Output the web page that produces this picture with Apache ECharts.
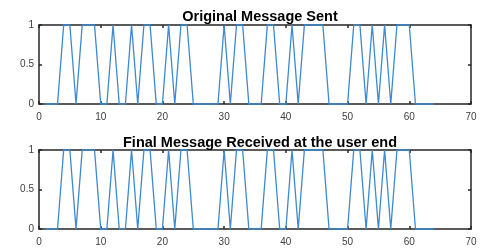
<!DOCTYPE html>
<html>
<head>
<meta charset="utf-8">
<script src="https://cdn.jsdelivr.net/npm/echarts@6/dist/echarts.min.js"></script>
<style>
  html, body { margin: 0; padding: 0; background: #fff; }
  #main { width: 482px; height: 250px; }
</style>
</head>
<body>
<div id="main"></div>
<script>
// bits, sample index starts at 1
var sentBits = [0,0,0,1,1,0,1,1,1,0,0,1,0,0,1,0,1,1,0,0,1,0,1,1,0,0,0,0,0,1,0,1,1,0,0,0,1,1,0,0,1,0,1,1,1,1,0,0,0,0,1,1,0,1,0,1,0,1,1,1,0,0,0,0];
var receivedBits = [0,0,0,1,1,0,1,1,1,0,0,1,0,0,1,0,1,1,0,0,1,0,1,1,0,0,0,0,0,1,0,1,1,0,0,0,1,1,0,0,1,0,1,1,1,1,0,0,0,0,1,1,0,1,0,1,0,1,1,1,0,0,0,0];
var xTicks = [0, 10, 20, 30, 40, 50, 60, 70];
var yTicks = [0, 0.5, 1];
var titles = ["Original Message Sent", "Final Message Received at the user end"];

function toPoints(bits) {
  return bits.map(function (b, i) { return [i + 1, b]; });
}

var axisColor = "#262626";
var lblStyle = { color: "#404040", fontSize: 10, fontFamily: "Liberation Sans" };

function xAx(gi, pos, showLbl) {
  return {
    type: "value", gridIndex: gi, position: pos, z: 0,
    min: xTicks[0], max: xTicks[xTicks.length - 1], interval: 10,
    axisLine: { show: true, onZero: false, lineStyle: { color: axisColor, width: 1.5 } },
    axisTick: { show: true, inside: true, length: 3, lineStyle: { color: axisColor, width: 1.5 } },
    axisLabel: Object.assign({ show: showLbl, margin: 8 }, lblStyle),
    splitLine: { show: false }
  };
}
function yAx(gi, pos, showLbl) {
  return {
    type: "value", gridIndex: gi, position: pos, z: 0,
    min: yTicks[0], max: yTicks[yTicks.length - 1], interval: 0.5,
    axisLine: { show: true, onZero: false, lineStyle: { color: axisColor, width: 1.5 } },
    axisTick: { show: true, inside: true, length: 3, lineStyle: { color: axisColor, width: 1.5 } },
    axisLabel: Object.assign({ show: showLbl, margin: 5 }, lblStyle),
    splitLine: { show: false }
  };
}

var titleStyle = { fontSize: 14.5, fontWeight: "bold", color: "#000", fontFamily: "Liberation Sans" };

var chart = echarts.init(document.getElementById("main"));
chart.setOption({
  animation: false,
  title: [
    { text: titles[0], left: 255, top: 4, textAlign: "center", textStyle: titleStyle },
    { text: titles[1], left: 255, top: 130, textAlign: "center", textStyle: titleStyle }
  ],
  grid: [
    { left: 39, right: 11, top: 25, height: 79 },
    { left: 39, right: 11, top: 150, height: 79 }
  ],
  xAxis: [xAx(0, "bottom", true), xAx(0, "top", false), xAx(1, "bottom", true), xAx(1, "top", false)],
  yAxis: [yAx(0, "left", true), yAx(0, "right", false), yAx(1, "left", true), yAx(1, "right", false)],
  series: [
    { type: "line", xAxisIndex: 0, yAxisIndex: 0, data: toPoints(sentBits), showSymbol: false,
      clip: false, z: 10, zlevel: 1, lineStyle: { color: "#3d8ad0", width: 1.3 } },
    { type: "line", xAxisIndex: 2, yAxisIndex: 2, data: toPoints(receivedBits), showSymbol: false,
      clip: false, z: 10, zlevel: 1, lineStyle: { color: "#3d8ad0", width: 1.3 } }
  ]
});
</script>
</body>
</html>
